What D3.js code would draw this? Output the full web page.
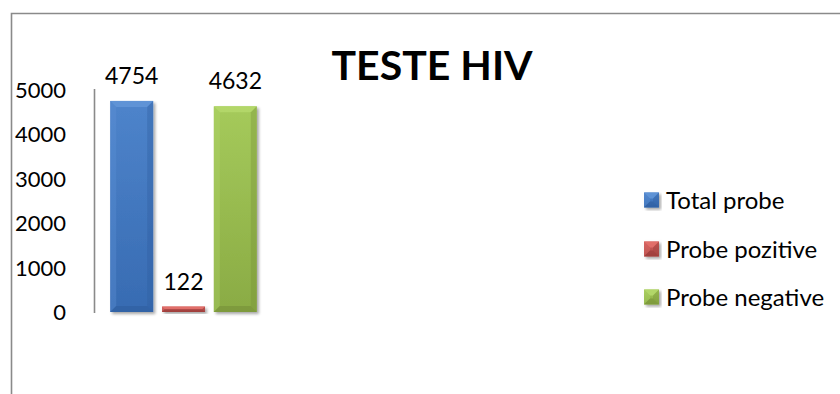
<!DOCTYPE html>
<html>
<head>
<meta charset="utf-8">
<script src="https://cdn.jsdelivr.net/npm/d3@7"></script>
<style>
  html, body { margin: 0; padding: 0; background: #fff; }
  svg { display: block; }
  text { font-family: Lato, "Open Sans", sans-serif; fill: #000; }
</style>
</head>
<body>
<svg id="chart" width="840" height="394"></svg>
<script>
// Chart data
const categories = ["Total probe", "Probe pozitive", "Probe negative"];
const values = [4754, 122, 4632];
const yTicks = [0, 1000, 2000, 3000, 4000, 5000];
const title = "TESTE HIV";

// Base colour per series: [light, mid, dark]
const palette = [
  ["#5f93d6", "#3d74c0", "#2f5d9e"],
  ["#e2706c", "#c0504d", "#963b38"],
  ["#b3d76a", "#97bd4c", "#768f37"]
];

const svg = d3.select("#chart");
const W = 840, H = 394;

// Frame (left and top edges)
svg.append("path")
  .attr("d", `M11.5,${H} L11.5,13.5 L${W},13.5`)
  .attr("fill", "none")
  .attr("stroke", "#8a8a8a")
  .attr("stroke-width", 1.6);

const y = d3.scaleLinear().domain([0, 5000]).range([312, 90]);
const x = d3.scaleBand().domain(categories).range([105, 262]).paddingInner(0.17).paddingOuter(0.1);

const defs = svg.append("defs");
const shadow = defs.append("filter").attr("id", "shadow")
  .attr("x", "-20%").attr("y", "-20%").attr("width", "140%").attr("height", "140%");
shadow.append("feGaussianBlur").attr("in", "SourceAlpha").attr("stdDeviation", 1.6).attr("result", "b");
shadow.append("feOffset").attr("in", "b").attr("dx", 1.5).attr("dy", 1.5).attr("result", "o");
shadow.append("feComponentTransfer").attr("in", "o").attr("result", "s")
  .append("feFuncA").attr("type", "linear").attr("slope", 0.35);
const merge = shadow.append("feMerge");
merge.append("feMergeNode").attr("in", "s");
merge.append("feMergeNode").attr("in", "SourceGraphic");

palette.forEach((c, i) => {
  const g = defs.append("linearGradient").attr("id", "grad" + i)
    .attr("x1", 0).attr("y1", 0).attr("x2", 0).attr("y2", 1);
  g.append("stop").attr("offset", "0%").attr("stop-color", d3.interpolateRgb(c[0], c[1])(0.5));
  g.append("stop").attr("offset", "100%").attr("stop-color", d3.interpolateRgb(c[1], c[2])(0.4));
});

// Y axis: labels and the plain vertical line
const yAxis = svg.append("g");
yAxis.selectAll("text").data(yTicks).join("text")
  .attr("x", 66)
  .attr("y", d => y(d))
  .attr("dy", "0.36em")
  .attr("text-anchor", "end")
  .attr("font-size", 22)
  .text(d => d);
yAxis.append("line")
  .attr("x1", 94.5).attr("x2", 94.5)
  .attr("y1", y(5000) - 1).attr("y2", y(0) + 1)
  .attr("stroke", "#8a8a8a").attr("stroke-width", 1.6);

// Bevelled bars
function bevelBar(g, x0, y0, w, h, i) {
  const c = palette[i];
  const b = Math.min(6, h / 2, w / 2);
  const grp = g.append("g").attr("filter", "url(#shadow)");
  grp.append("rect").attr("x", x0).attr("y", y0).attr("width", w).attr("height", h)
    .attr("fill", `url(#grad${i})`);
  const poly = (pts, fill, op) => grp.append("polygon")
    .attr("points", pts.map(p => p.join(",")).join(" "))
    .attr("fill", fill).attr("opacity", op);
  poly([[x0, y0], [x0 + w, y0], [x0 + w - b, y0 + b], [x0 + b, y0 + b]], c[0], 0.95);
  poly([[x0, y0], [x0 + b, y0 + b], [x0 + b, y0 + h - b], [x0, y0 + h]], c[0], 0.35);
  poly([[x0 + w, y0], [x0 + w - b, y0 + b], [x0 + w - b, y0 + h - b], [x0 + w, y0 + h]], c[2], 0.35);
  poly([[x0, y0 + h], [x0 + b, y0 + h - b], [x0 + w - b, y0 + h - b], [x0 + w, y0 + h]], c[2], 0.6);
}

const bars = svg.append("g");
categories.forEach((cat, i) => {
  const v = values[i];
  bevelBar(bars, x(cat), y(v), x.bandwidth(), y(0) - y(v), i);
  bars.append("text")
    .attr("x", x(cat) + x.bandwidth() / 2)
    .attr("y", y(v) - 17)
    .attr("text-anchor", "middle")
    .attr("font-size", 23)
    .text(v);
});

// Title
svg.append("text")
  .attr("x", 432)
  .attr("y", 80)
  .attr("text-anchor", "middle")
  .attr("font-size", 41)
  .attr("font-weight", "bold")
  .text(title);

// Legend
const legend = svg.append("g");
const legendY = [200, 249, 297];
categories.forEach((cat, i) => {
  const cy = legendY[i];
  bevelBar(legend, 644, cy - 7.5, 15, 15, i);
  legend.append("text")
    .attr("x", 666)
    .attr("y", cy)
    .attr("dy", "0.36em")
    .attr("font-size", 24)
    .text(cat);
});
</script>
</body>
</html>
